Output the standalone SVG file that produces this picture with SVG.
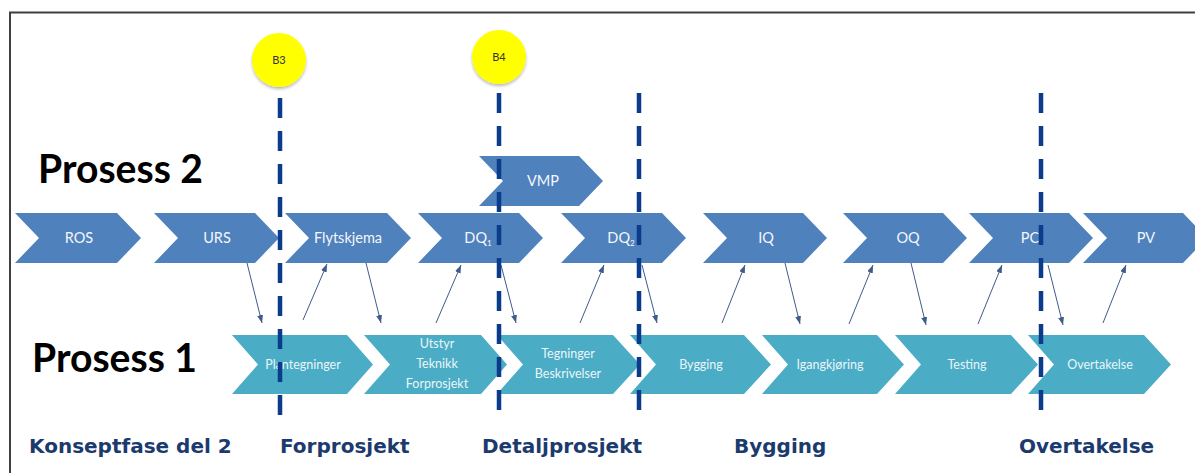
<svg xmlns="http://www.w3.org/2000/svg" width="1195" height="473" viewBox="0 0 1195 473">
  <defs>
    <style>
      .p2 { fill: #4F81BD; }
      .p1 { fill: #4BACC6; }
      .t2 { font-family: Lato, "Liberation Sans", sans-serif; font-size: 14.5px; fill: #F4F7FB; text-anchor: middle; }
      .t1 { font-family: Lato, "Liberation Sans", sans-serif; font-size: 12.5px; fill: #EAF6F9; text-anchor: middle; }
      .big { font-family: Lato, "Liberation Sans", sans-serif; font-weight: bold; font-size: 40px; fill: #000; }
      .phase { font-family: "DejaVu Sans", Verdana, sans-serif; font-weight: bold; font-size: 20px; fill: #1B3A6E; }
      .gate { fill: none; stroke: #0B3C8C; stroke-width: 4.5; stroke-dasharray: 20 13; }
      .link { fill: none; stroke: #3F5B8A; stroke-width: 1; marker-end: url(#head); }
      .mark { fill: #FFFF00; filter: url(#shadow); }
      .mlabel { font-family: Lato, "Liberation Sans", sans-serif; font-size: 11px; fill: #333; text-anchor: middle; }
    </style>
    <marker id="head" viewBox="0 0 8 6" refX="8" refY="3" markerWidth="8" markerHeight="6" markerUnits="userSpaceOnUse" orient="auto">
      <path d="M0,0 L8,3 L0,6 z" fill="#3F5B8A"/>
    </marker>
    <filter id="shadow" x="-30%" y="-30%" width="160%" height="170%">
      <feDropShadow dx="0" dy="2" stdDeviation="1.5" flood-color="#000" flood-opacity="0.28"/>
    </filter>
  </defs>

  <rect x="0" y="0" width="1195" height="473" fill="#fff"/>
  <!-- frame -->
  <path d="M10,473 V12.5 H1195" fill="none" stroke="#404040" stroke-width="2"/>

  <!-- row titles -->
  <text class="big" x="38" y="183" textLength="165" lengthAdjust="spacingAndGlyphs">Prosess 2</text>
  <text class="big" x="32" y="372" textLength="165" lengthAdjust="spacingAndGlyphs">Prosess 1</text>

  <!-- Prosess 2 steps -->
  <g id="ros"><polygon class="p2" points="15,213 117,213 141,238 117,263 15,263 39,238"/><text class="t2" x="79" y="243">ROS</text></g>
  <g id="urs"><polygon class="p2" points="154,213 255,213 279,238 255,263 154,263 178,238"/><text class="t2" x="217" y="243">URS</text></g>
  <g id="flytskjema"><polygon class="p2" points="285,213 387,213 411,238 387,263 285,263 309,238"/><text class="t2" x="348" y="243">Flytskjema</text></g>
  <g id="dq1"><polygon class="p2" points="418,213 519,213 543,238 519,263 418,263 442,238"/><text class="t2" x="478" y="243">DQ<tspan font-size="8" dy="3">1</tspan></text></g>
  <g id="dq2"><polygon class="p2" points="561,213 662,213 686,238 662,263 561,263 585,238"/><text class="t2" x="621" y="243">DQ<tspan font-size="8" dy="3">2</tspan></text></g>
  <g id="iq"><polygon class="p2" points="703,213 803,213 827,238 803,263 703,263 727,238"/><text class="t2" x="766" y="243">IQ</text></g>
  <g id="oq"><polygon class="p2" points="843,213 943,213 967,238 943,263 843,263 867,238"/><text class="t2" x="908" y="243">OQ</text></g>
  <g id="pc"><polygon class="p2" points="969,213 1069,213 1093,238 1069,263 969,263 993,238"/><text class="t2" x="1030" y="243">PC</text></g>
  <g id="pv"><polygon class="p2" points="1083,213 1183,213 1207,238 1183,263 1083,263 1107,238"/><text class="t2" x="1146" y="243">PV</text></g>
  <g id="vmp"><polygon class="p2" points="479,156 579,156 603,181 579,206 479,206 503,181"/><text class="t2" x="543" y="186">VMP</text></g>

  <!-- Prosess 1 steps -->
  <g id="plantegninger"><polygon class="p1" points="232,335 347,335 373,364.5 347,394 232,394 258,364.5"/><text class="t1" x="303" y="369">Plantegninger</text></g>
  <g id="utstyr"><polygon class="p1" points="364,335 481,335 507,364.5 481,394 364,394 390,364.5"/>
    <text class="t1" x="437" y="348">Utstyr</text><text class="t1" x="437" y="368">Teknikk</text><text class="t1" x="437" y="388">Forprosjekt</text></g>
  <g id="tegninger"><polygon class="p1" points="497,335 613,335 640,364.5 613,394 497,394 523,364.5"/>
    <text class="t1" x="568" y="358">Tegninger</text><text class="t1" x="568" y="378">Beskrivelser</text></g>
  <g id="bygging"><polygon class="p1" points="630,335 744,335 771,364.5 744,394 630,394 656,364.5"/><text class="t1" x="701" y="369">Bygging</text></g>
  <g id="igangkjoring"><polygon class="p1" points="762,335 877,335 904,364.5 877,394 762,394 788,364.5"/><text class="t1" x="830" y="369">Igangkjøring</text></g>
  <g id="testing"><polygon class="p1" points="895,335 1011,335 1038,364.5 1011,394 895,394 921,364.5"/><text class="t1" x="967" y="369">Testing</text></g>
  <g id="overtakelse"><polygon class="p1" points="1028,335 1144,335 1171,364.5 1144,394 1028,394 1054,364.5"/><text class="t1" x="1100" y="369">Overtakelse</text></g>

  <!-- hand-offs between the two processes -->
  <g id="connectors">
    <line class="link" x1="247" y1="263" x2="262" y2="323"/>
    <line class="link" x1="303" y1="320" x2="327" y2="264"/>
    <line class="link" x1="366" y1="263" x2="381" y2="323"/>
    <line class="link" x1="436" y1="323" x2="461" y2="265"/>
    <line class="link" x1="501" y1="265" x2="516" y2="323"/>
    <line class="link" x1="580" y1="323" x2="604" y2="265"/>
    <line class="link" x1="642" y1="265" x2="657" y2="323"/>
    <line class="link" x1="722" y1="323" x2="745" y2="265"/>
    <line class="link" x1="785" y1="263" x2="800" y2="324"/>
    <line class="link" x1="849" y1="324" x2="873" y2="265"/>
    <line class="link" x1="911" y1="263" x2="926" y2="325"/>
    <line class="link" x1="978" y1="324" x2="1002" y2="265"/>
    <line class="link" x1="1048" y1="265" x2="1063" y2="325"/>
    <line class="link" x1="1103" y1="323" x2="1126" y2="265"/>
  </g>

  <!-- phase gates -->
  <g id="gates">
    <line class="gate" x1="280" y1="98" x2="280" y2="418"/>
    <line class="gate" x1="499" y1="93" x2="499" y2="413"/>
    <line class="gate" x1="639" y1="93" x2="639" y2="413"/>
    <line class="gate" x1="1041" y1="93" x2="1041" y2="416"/>
  </g>

  <!-- milestones -->
  <g id="b3"><circle class="mark" cx="279" cy="60" r="27"/><text class="mlabel" x="279" y="64">B3</text></g>
  <g id="b4"><circle class="mark" cx="499" cy="57" r="27"/><text class="mlabel" x="499" y="61">B4</text></g>

  <!-- phase names -->
  <text class="phase" x="29" y="453">Konseptfase del 2</text>
  <text class="phase" x="280" y="453">Forprosjekt</text>
  <text class="phase" x="482" y="453">Detaljprosjekt</text>
  <text class="phase" x="734" y="453">Bygging</text>
  <text class="phase" x="1019" y="453">Overtakelse</text>
</svg>
